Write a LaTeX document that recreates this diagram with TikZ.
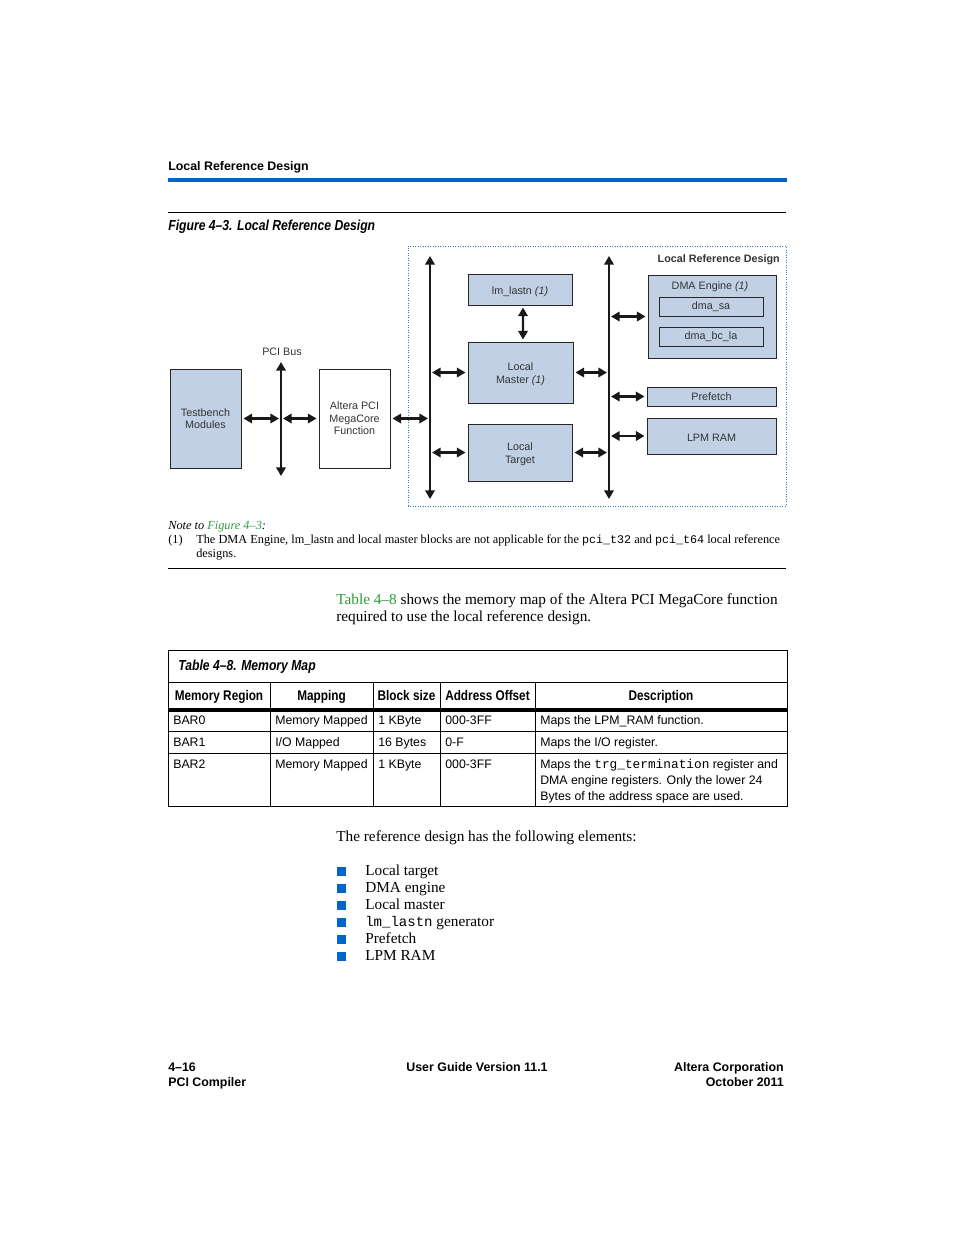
\documentclass[tikz,border=0pt]{standalone}
\usepackage{fontspec}
\setmainfont{Liberation Serif}
\setsansfont{Liberation Sans}
\setmonofont{Liberation Mono}
\newfontfamily\condfont[FakeStretch=0.84,Ligatures=TeX]{Liberation Sans}
\usetikzlibrary{arrows.meta}
\definecolor{RuleBlue}{HTML}{0066CC}
\definecolor{BoxBlue}{HTML}{C1D0E5}
\definecolor{FrameBlue}{HTML}{2C7FC2}
\definecolor{LinkGreen}{HTML}{2E9B3C}
\definecolor{BoxText}{HTML}{333333}
\newlength\pxu
\setlength\pxu{0.6415pt}
\newcommand\diagfont{\sffamily\fontsize{6.9}{8.1}\selectfont\color{BoxText}}
\newcommand\tabfont{\sffamily\fontsize{7.9}{9.4}\selectfont}
\newcommand\tabhead{\condfont\bfseries\fontsize{9}{10}\selectfont}
\newcommand\capfont{\condfont\bfseries\itshape\fontsize{9.3}{10}\selectfont}
\newcommand\pagehead{\sffamily\bfseries\fontsize{7.95}{9}\selectfont}
\newcommand\notefont{\rmfamily\fontsize{7.9}{9}\selectfont}
\newcommand\bodyfont{\rmfamily\fontsize{9.8}{12}\selectfont}
\newcommand\lowstrut{\rule{0pt}{7.2pt}}

\tikzset{
  blk/.style 2 args={draw=black!85, line width=0.6pt, fill=BoxBlue, minimum width=#1\pxu,
                     minimum height=#2\pxu, inner sep=0pt, align=center, font=\diagfont},
  busline/.style={line width=1.5pt, black!90, {Triangle[length=5.5pt,width=6pt]}-{Triangle[length=5.5pt,width=6pt]}},
  biarrow/.style={busline, shorten <=2\pxu, shorten >=2\pxu},
  txt/.style={anchor=base west, inner sep=0pt},
}

\begin{document}
\begin{tikzpicture}[x=0.6415pt,y=-0.6415pt]
  \useasboundingbox[fill=white] (0,0) rectangle (954,1235);

  % page head
  \node[txt,font=\pagehead] (head) at (168,170) {Local Reference Design};
  \draw[RuleBlue,line width=2pt] (168,180) -- (787,180);
  \draw[line width=0.6pt] (168,212) -- (786,212);
  \node[txt,font=\capfont] (figcap) at (168,230) {Figure 4\textendash3. Local Reference Design};

  % figure
  \node[draw=FrameBlue,densely dotted,line width=0.6pt,minimum width=378\pxu,minimum height=260\pxu,
        inner sep=0pt] (lrd) at (597,376) {};
  \node[anchor=east,inner sep=0pt,font=\diagfont\bfseries] at (780,259.5) {Local Reference Design};

  \node[blk={71}{99}] (tb) at (205.5,418.5) {Testbench\\Modules};
  \node[blk={71}{99},fill=white] (mega) at (354.5,418.5) {Altera PCI\\MegaCore\\Function};
  \node[font=\diagfont,inner sep=0pt] (pcilbl) at (282,352) {PCI Bus};

  \node[blk={104}{31}] (lmlastn) at (520,289.5) {\lowstrut lm\_lastn \textit{(1)}};
  \node[blk={105}{61}] (lmaster) at (520.5,372.5) {\lowstrut Local\\Master \textit{(1)}};
  \node[blk={104}{57}] (ltarget) at (520,452.5) {\lowstrut Local\\Target};

  \node[blk={128}{83}] (dma) at (712,316.5) {};
  \node[font=\diagfont,inner sep=0pt] at (710,286.5) {DMA Engine \textit{(1)}};
  \node[blk={104}{19}] (dmasa) at (711,306.5) {dma\_sa};
  \node[blk={104}{19}] (dmabcla) at (711,336.5) {dma\_bc\_la};
  \node[blk={129}{19}] (prefetch) at (711.5,396.5) {Prefetch};
  \node[blk={129}{36}] (lpmram) at (711.5,436) {\lowstrut LPM RAM};

  % buses
  \coordinate (pcitop) at (281,362);
  \coordinate (pcibot) at (281,476);
  \coordinate (lbustop) at (430,256);
  \coordinate (lbusbot) at (430,499);
  \coordinate (rbustop) at (609,256);
  \coordinate (rbusbot) at (609,499);
  \draw[busline] (pcitop) -- (pcibot);
  \draw[busline] (lbustop) -- (lbusbot);
  \draw[busline] (rbustop) -- (rbusbot);

  % connections
  \draw[biarrow] (tb.east) -- (tb.east -| pcitop);
  \draw[biarrow] (tb.east -| pcitop) -- (mega.west);
  \draw[biarrow] (mega.east) -- (mega.east -| lbustop);
  \draw[biarrow] (lmaster.west -| lbustop) -- (lmaster.west);
  \draw[biarrow] (ltarget.west -| lbustop) -- (ltarget.west);
  \draw[biarrow] (lmaster.east) -- (lmaster.east -| rbustop);
  \draw[biarrow] (ltarget.east) -- (ltarget.east -| rbustop);
  \draw[biarrow] ([xshift=3\pxu]lmlastn.south) -- ([xshift=2.5\pxu]lmaster.north);
  \draw[biarrow] (dma.west -| rbustop) -- (dma.west);
  \draw[biarrow] (prefetch.west -| rbustop) -- (prefetch.west);
  \draw[biarrow] (lpmram.west -| rbustop) -- (lpmram.west);

  % note
  \node[txt,font=\notefont\itshape] (notehd) at (168,529) {Note to \textcolor{LinkGreen}{Figure 4--3}:};
  \node[txt,font=\notefont] at (168,543) {(1)};
  \node[txt,font=\notefont] (note1) at (196,543) {The DMA Engine, lm\_lastn and local master blocks are not applicable for the
    {\ttfamily\fontsize{7.5}{9}\selectfont pci\_t32} and {\ttfamily\fontsize{7.5}{9}\selectfont pci\_t64} local reference};
  \node[txt,font=\notefont] (note2) at (196,557) {designs.};
  \draw[line width=0.6pt] (168,568) -- (786,568);

  % paragraph
  \node[txt,font=\bodyfont] (para1) at (336,604) {\textcolor{LinkGreen}{Table 4--8} shows the memory map of the Altera PCI MegaCore function};
  \node[txt,font=\bodyfont] (para2) at (336,621) {required to use the local reference design.};

  % table
  \draw[line width=0.6pt] (168,650) rectangle (787,806);
  \draw[line width=0.6pt] (168,682) -- (787,682);
  \draw[line width=2pt] (168,710) -- (787,710);
  \draw[line width=0.6pt] (168,731) -- (787,731) (168,753) -- (787,753);
  \foreach \cx in {270,373,440,535}
    \draw[line width=0.6pt] (\cx,682) -- (\cx,806);
  \node[txt,font=\capfont] (tabcap) at (178,670) {Table 4\textendash8. Memory Map};
  \foreach \cx/\hd in {219/Memory Region,321.5/Mapping,406.5/Block size,487.5/Address Offset,661/Description}
    \node[anchor=base,inner sep=0pt,font=\tabhead] at (\cx,700) {\hd};
  \foreach \ry/\ca/\cb/\cc/\cd/\ce in {724/BAR0/Memory Mapped/1 KByte/000-3FF/Maps the LPM\_RAM function.,
      746/BAR1/I\slash O Mapped/16 Bytes/0-F/Maps the I\slash O register.,
      768/BAR2/Memory Mapped/1 KByte/000-3FF/{Maps the {\ttfamily\fontsize{8.2}{9}\selectfont trg\_termination} register and}}{
    \node[txt,font=\tabfont] at (173,\ry) {\ca};
    \node[txt,font=\tabfont] at (275,\ry) {\cb};
    \node[txt,font=\tabfont] at (378,\ry) {\cc};
    \node[txt,font=\tabfont] at (445,\ry) {\cd};
    \node[txt,font=\tabfont] at (540,\ry) {\ce};
  }
  \node[txt,font=\tabfont] at (540,784) {DMA engine registers. Only the lower 24};
  \node[txt,font=\tabfont] at (540,800) {Bytes of the address space are used.};

  % element list
  \node[txt,font=\bodyfont] (listhd) at (336,841) {The reference design has the following elements:};
  \foreach \ly/\item in {875/Local target,892/DMA engine,909/Local master,
      926/{{\ttfamily\fontsize{9}{10}\selectfont lm\_lastn} generator},943/Prefetch,960/LPM RAM}{
    \fill[RuleBlue] (336.5,\ly-8.5) rectangle ++(9,9);
    \node[txt,font=\bodyfont] at (365,\ly) {\item};
  }

  % page foot
  \node[txt,font=\pagehead] at (168,1071) {4--16};
  \node[txt,font=\pagehead] at (168,1086) {PCI Compiler};
  \node[anchor=base,inner sep=0pt,font=\pagehead] at (477,1071) {User Guide Version 11.1};
  \node[anchor=base east,inner sep=0pt,font=\pagehead] at (784,1071) {Altera Corporation};
  \node[anchor=base east,inner sep=0pt,font=\pagehead] at (784,1086) {October 2011};
\end{tikzpicture}
\end{document}
